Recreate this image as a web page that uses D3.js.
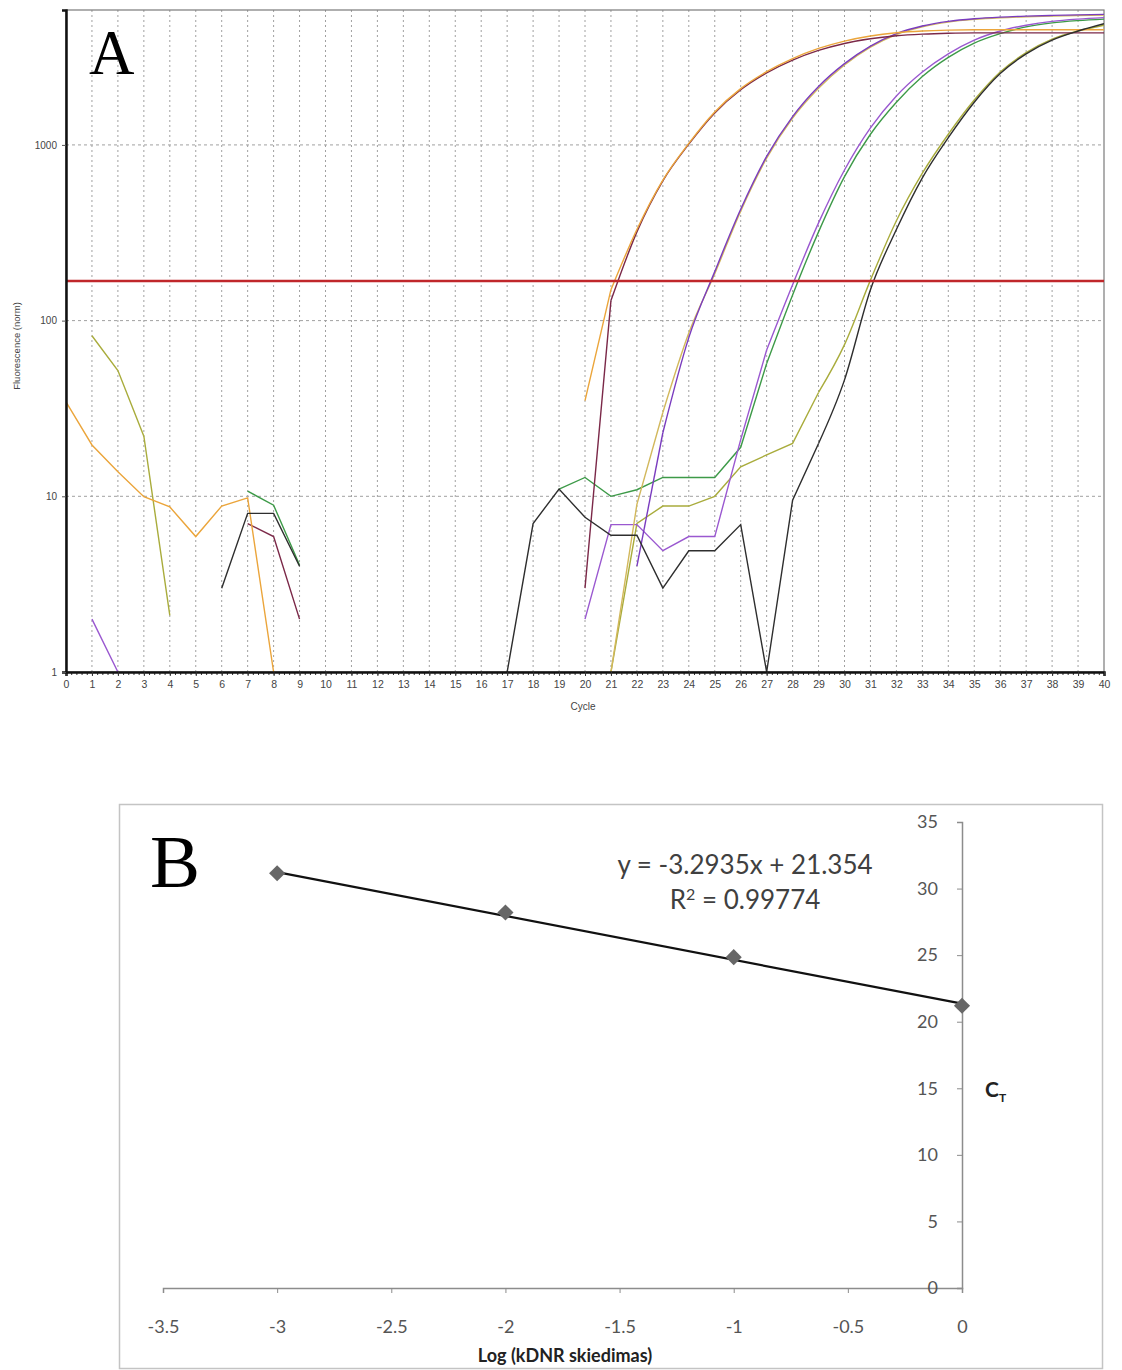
<!DOCTYPE html>
<html>
<head>
<meta charset="utf-8">
<script src="https://cdn.jsdelivr.net/npm/d3@7"></script>
<style>
  body { margin: 0; background: #fff; }
  svg { display: block; }
</style>
</head>
<body>
<div id="chart"></div>
<script>
// ---- panel A data: fluorescence per cycle (null = below 1, not drawn) ----
var _ = null;
var cycles = d3.range(0, 41);
var orange  = [34.5, 19.6, 13.8, 9.95, 8.7, 5.9, 8.8, 9.8, 1, _, _, _, _, _, _, _, _, _, _, _,
               35, 150, 330, 630, 1020, 1540, 2090, 2610, 3100, 3540, 3900, 4170, 4350, 4450, 4500, 4520, 4520, 4520, 4520, 4520, 4520];
var maroon  = [_, _, _, _, _, _, _, 7.0, 5.9, 2.0, _, _, _, _, _, _, _, _, _, _,
               3.0, 130, 320, 625, 1010, 1520, 2060, 2570, 3040, 3450, 3780, 4020, 4180, 4270, 4320, 4340, 4340, 4340, 4340, 4340, 4340];
var purple2 = [_, _, _, _, _, _, _, _, _, _, _, _, _, _, _, _, _, _, _, _, _, _,
               4.0, 23, 80, 190, 430, 860, 1450, 2150, 2900, 3650, 4300, 4750, 5050, 5230, 5340, 5410, 5460, 5500, 5530];
var tan2    = [_, _, _, _, _, _, _, _, _, _, _, _, _, _, _, _, _, _, _, _, _,
               1, 9, 30, 85, 185, 420, 840, 1420, 2100, 2850, 3600, 4250, 4700, 5000, 5180, 5290, 5360, 5410, 5450, 5480];
var purple3 = [_, 2.0, 1, _, _, _, _, _, _, _, _, _, _, _, _, _, _, _, _, _,
               2.0, 6.9, 6.9, 4.9, 5.9, 5.9, 21, 68, 160, 360, 720, 1250, 1900, 2600, 3300, 3950, 4450, 4800, 5050, 5200, 5300];
var green3  = [_, _, _, _, _, _, _, 10.7, 8.9, 4.06, _, _, _, _, _, _, _, _, _,
               11, 12.8, 10, 10.9, 12.8, 12.8, 12.8, 19, 57, 140, 320, 660, 1150, 1750, 2450, 3150, 3800, 4300, 4700, 4950, 5100, 5200];
var olive4  = [_, 82, 52, 22, 2.1, _, _, _, _, _, _, _, _, _, _, _, _, _, _, _, _,
               1, 7.0, 8.8, 8.8, 10, 14.7, 17.2, 20, 39, 73, 170, 370, 690, 1150, 1800, 2600, 3350, 4000, 4450, 4800];
var black4  = [_, _, _, _, _, _, 3.0, 8.0, 8.0, 4.0, _, _, _, _, _, _, _,
               1, 7.0, 11, 7.6, 6, 6, 3.0, 4.9, 4.9, 6.9, 1, 9.5, 20, 46, 150, 330, 650, 1100, 1750, 2550, 3300, 3950, 4450, 4900];
var seriesNames  = ["olive4", "green3", "purple3", "tan2", "purple2", "maroon", "orange", "black4"];
var seriesValues = [olive4, green3, purple3, tan2, purple2, maroon, orange, black4];
var seriesColors = ["#a9ac3c", "#3d9a48", "#9a58d0", "#d2b85c", "#7a3cbf", "#7b2848", "#eba53b", "#2e2e2e"];
// cycle from which the amplification part is drawn as a smooth curve
var smoothFrom = [29, 27, 27, 23, 23, 21, 21, 29];
var threshold = 168;
var yTicksA = [1, 10, 100, 1000];

// ---- panel B data: standard curve ----
var logDil = [-3, -2, -1, 0];
var ctValues = [31.15, 28.2, 24.85, 21.2];
var slope = -3.2935, intercept = 21.354, rSquared = 0.99774;
var xTicksB = [-3.5, -3, -2.5, -2, -1.5, -1, -0.5, 0];
var yTicksB = [0, 5, 10, 15, 20, 25, 30, 35];

var width = 1122, height = 1370;

var svg = d3.select("#chart").append("svg")
    .attr("width", width)
    .attr("height", height);
svg.append("rect").attr("width", width).attr("height", height).attr("fill", "#fff");

// ================= panel A =================
var xA = d3.scaleLinear().domain([0, 40]).range([66, 1104]);
var yA = d3.scaleLog().domain([1, 5860]).range([672, 10]);

var gA = svg.append("g");

gA.append("clipPath").attr("id", "clipA")
  .append("rect").attr("x", 66).attr("y", 10).attr("width", 1038).attr("height", 662);

// grid
gA.selectAll(".vgrid").data(d3.range(1, 40)).enter().append("line")
    .attr("x1", d => xA(d)).attr("x2", d => xA(d))
    .attr("y1", 10).attr("y2", 672)
    .attr("stroke", "#a0a0a0").attr("stroke-width", 1).attr("stroke-dasharray", "2,3");
gA.selectAll(".hgrid").data([10, 100, 1000]).enter().append("line")
    .attr("x1", 66).attr("x2", 1104)
    .attr("y1", d => yA(d)).attr("y2", d => yA(d))
    .attr("stroke", "#a0a0a0").attr("stroke-width", 1).attr("stroke-dasharray", "3,3");

// frame
gA.append("rect").attr("x", 66).attr("y", 10).attr("width", 1038).attr("height", 662)
    .attr("fill", "none").attr("stroke", "#7a7a7a").attr("stroke-width", 1.2);

// curves: straight segments for the noisy baseline, smooth for amplification
var lineRaw = d3.line()
    .defined(d => d.v != null)
    .x(d => xA(d.c))
    .y(d => yA(d.v));
var lineSmooth = d3.line()
    .defined(d => d.v != null)
    .curve(d3.curveMonotoneX)
    .x(d => xA(d.c))
    .y(d => yA(d.v));

var curves = gA.append("g").attr("clip-path", "url(#clipA)");
seriesValues.forEach(function (vals, i) {
    var pts = cycles.map(c => ({ c: c, v: vals[c] }));
    var s = smoothFrom[i];
    [[pts.filter(p => p.c <= s), lineRaw], [pts.filter(p => p.c >= s), lineSmooth]].forEach(function (part) {
        curves.append("path")
            .datum(part[0])
            .attr("class", seriesNames[i])
            .attr("d", part[1])
            .attr("fill", "none")
            .attr("stroke", seriesColors[i])
            .attr("stroke-width", 1.4);
    });
});

// threshold
curves.append("line")
    .attr("x1", 66).attr("x2", 1104)
    .attr("y1", yA(threshold)).attr("y2", yA(threshold))
    .attr("stroke", "#c0272b").attr("stroke-width", 2.6);

// axes
var minorX = gA.append("g").attr("transform", "translate(0,672)")
    .call(d3.axisBottom(xA).tickValues(d3.range(0, 40.01, 0.2)).tickSize(3).tickFormat(""));
minorX.select(".domain").remove();
minorX.selectAll("line").attr("stroke", "#333");

var axX = gA.append("g").attr("transform", "translate(0,672)")
    .call(d3.axisBottom(xA).tickValues(cycles).tickSize(4).tickPadding(5).tickFormat(d => d));
axX.select(".domain").attr("stroke", "#111").attr("stroke-width", 2.5);
axX.selectAll("line").attr("stroke", "#333");
axX.selectAll("text").attr("font-family", "Liberation Sans, Arial, sans-serif")
    .attr("font-size", 10.5).attr("fill", "#444");

var axY = gA.append("g").attr("transform", "translate(66,0)")
    .call(d3.axisLeft(yA).tickValues(yTicksA).tickSize(4).tickPadding(5).tickFormat(d3.format("d")));
axY.select(".domain").attr("stroke", "#111").attr("stroke-width", 2.5);
axY.selectAll("line").attr("stroke", "#555");
axY.selectAll("text").attr("font-family", "Liberation Sans, Arial, sans-serif")
    .attr("font-size", 10).attr("fill", "#444");

gA.append("text").attr("x", 583).attr("y", 710).attr("text-anchor", "middle")
    .attr("font-family", "Liberation Sans, Arial, sans-serif").attr("font-size", 10).attr("fill", "#444")
    .text("Cycle");
gA.append("text").attr("transform", "translate(20,346) rotate(-90)").attr("text-anchor", "middle")
    .attr("font-family", "Liberation Sans, Arial, sans-serif").attr("font-size", 9.5).attr("fill", "#444")
    .text("Fluorescence (norm)");

gA.append("text").attr("x", 89).attr("y", 74)
    .attr("font-family", "Liberation Serif, Times New Roman, serif").attr("font-size", 63).attr("fill", "#000")
    .text("A");

// ================= panel B =================
var xB = d3.scaleLinear().domain([-3.5, 0]).range([163, 962]);
var yB = d3.scaleLinear().domain([0, 35]).range([1288, 822]);

var gB = svg.append("g");
gB.append("rect").attr("x", 119.5).attr("y", 804.5).attr("width", 983).attr("height", 564)
    .attr("fill", "#fff").attr("stroke", "#c4c4c4").attr("stroke-width", 1.5);

var fontB = "Lato, Carlito, Calibri, sans-serif";

var axXB = gB.append("g").attr("transform", "translate(0," + yB(0) + ")")
    .call(d3.axisBottom(xB).tickValues(xTicksB).tickSize(5).tickPadding(27).tickFormat(d => String(d)));
axXB.select(".domain").attr("stroke", "#8c8c8c").attr("stroke-width", 1.5);
axXB.selectAll("line").attr("stroke", "#8c8c8c");
axXB.selectAll("text").attr("font-family", fontB).attr("font-size", 18).attr("fill", "#555");

var axYB = gB.append("g").attr("transform", "translate(" + xB(0) + ",0)")
    .call(d3.axisLeft(yB).tickValues(yTicksB).tickSize(5).tickPadding(19).tickFormat(d => d));
axYB.select(".domain").attr("stroke", "#8c8c8c").attr("stroke-width", 1.5);
axYB.selectAll("line").attr("stroke", "#8c8c8c");
axYB.selectAll("text").attr("font-family", fontB).attr("font-size", 18).attr("fill", "#555");

// trend line from the fitted equation
gB.append("line")
    .attr("x1", xB(logDil[0])).attr("y1", yB(slope * logDil[0] + intercept))
    .attr("x2", xB(logDil[3])).attr("y2", yB(slope * logDil[3] + intercept))
    .attr("stroke", "#111").attr("stroke-width", 2.2);

gB.selectAll(".pt").data(logDil).enter().append("path")
    .attr("class", "pt")
    .attr("transform", (d, i) => "translate(" + xB(d) + "," + yB(ctValues[i]) + ") rotate(45)")
    .attr("d", d3.symbol().type(d3.symbolSquare).size(130))
    .attr("fill", "#676767");

gB.append("text").attr("x", 745).attr("y", 874).attr("text-anchor", "middle")
    .attr("font-family", fontB).attr("font-size", 26).attr("fill", "#404040")
    .text("y = " + slope + "x + " + intercept);
var r2 = gB.append("text").attr("x", 745).attr("y", 909).attr("text-anchor", "middle")
    .attr("font-family", fontB).attr("font-size", 26).attr("fill", "#404040");
r2.append("tspan").text("R");
r2.append("tspan").attr("font-size", 16).attr("dy", -9).text("2");
r2.append("tspan").attr("dy", 9).text(" = " + rSquared);

gB.append("text").attr("x", 565).attr("y", 1362).attr("text-anchor", "middle")
    .attr("font-family", fontB).attr("font-size", 18).attr("font-weight", "bold").attr("fill", "#222")
    .text("Log (kDNR skiedimas)");

var ct = gB.append("text").attr("x", 985).attr("y", 1097)
    .attr("font-family", fontB).attr("font-size", 21).attr("font-weight", "bold").attr("fill", "#222");
ct.append("tspan").text("C");
ct.append("tspan").attr("font-size", 12).attr("dy", 5).text("T");

gB.append("text").attr("x", 150).attr("y", 887)
    .attr("font-family", "Liberation Serif, Times New Roman, serif").attr("font-size", 75).attr("fill", "#000")
    .text("B");
</script>
</body>
</html>
